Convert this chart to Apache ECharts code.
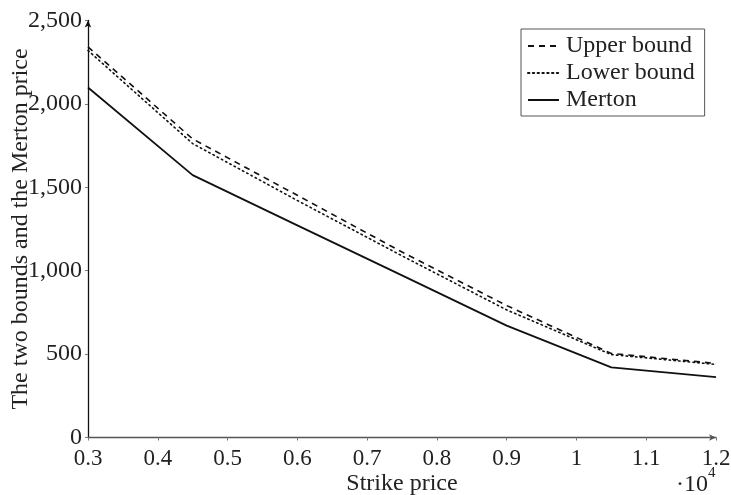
<!DOCTYPE html>
<html>
<head>
<meta charset="utf-8">
<script src="https://cdn.jsdelivr.net/npm/echarts@6/dist/echarts.min.js"></script>
<style>
html,body{margin:0;padding:0;background:#fff;}
#c{width:731px;height:495px;}
</style>
</head>
<body>
<div id="c"></div>
<script>
// Data
const strikes = [3000, 4500, 6000, 7500, 9000, 10500, 12000];
const upperBound = [2342, 1790, 1452, 1112, 791, 504, 444];
const lowerBound = [2320, 1762, 1421, 1089, 765, 497, 438];
const merton = [2098, 1573, 1272, 972, 671, 420, 362];
const seriesNames = ['Upper bound', 'Lower bound', 'Merton'];
const xTitle = 'Strike price';
const yTitle = 'The two bounds and the Merton price';
const xScaleBase = '·10';
const xScaleExp = '4';

const FONT = '"Liberation Serif", "DejaVu Serif", serif';
const pair = (xs, ys) => xs.map((x, i) => [x, ys[i]]);

const chart = echarts.init(document.getElementById('c'), null, {renderer: 'canvas'});
const baseLine = {color: '#111', width: 1.6};
chart.setOption({
  animation: false,
  backgroundColor: '#fff',
  textStyle: {fontFamily: FONT},
  grid: {left: 88, right: 15, top: 20.5, bottom: 57.5, containLabel: false, outerBoundsMode: 'none'},
  legend: {
    orient: 'vertical',
    left: 521, top: 29,
    padding: [5, 10, 4, 6],
    itemGap: 3,
    itemWidth: 31, itemHeight: 20,
    borderColor: '#555', borderWidth: 1,
    itemStyle: {opacity: 0},
    textStyle: {fontFamily: FONT, fontSize: 24, color: '#222', padding: [0, 0, 0, 2]},
    data: seriesNames
  },
  xAxis: {
    type: 'value', min: 3000, max: 12000, interval: 1000,
    name: xTitle, nameLocation: 'middle', nameGap: 34, nameMoveOverlap: false,
    nameTextStyle: {fontFamily: FONT, fontSize: 24, color: '#222'},
    axisLine: {show: true, onZero: false, lineStyle: {color: '#555', width: 1.3},
      symbol: ['none', 'arrow'], symbolSize: [5, 7], symbolOffset: [0, 0]},
    axisTick: {show: true, length: 3, lineStyle: {color: '#777'}},
    axisLabel: {fontFamily: FONT, fontSize: 23, color: '#222', margin: 10,
      formatter: v => String(+(v / 10000).toFixed(1))},
    splitLine: {show: false}
  },
  yAxis: {
    type: 'value', min: 0, max: 2500, interval: 500,
    name: yTitle, nameLocation: 'middle', nameGap: 55, nameRotate: 90, nameMoveOverlap: false,
    nameTextStyle: {fontFamily: FONT, fontSize: 24, color: '#222'},
    axisLine: {show: true, onZero: false, lineStyle: {color: '#111', width: 1.3},
      symbol: ['none', 'arrow'], symbolSize: [5, 7]},
    axisTick: {show: true, length: 3, lineStyle: {color: '#777'}},
    axisLabel: {fontFamily: FONT, fontSize: 24, color: '#222', margin: 6,
      formatter: v => v.toLocaleString('en-US')},
    splitLine: {show: false}
  },
  series: [
    {name: seriesNames[0], type: 'line', symbol: 'none', data: pair(strikes, upperBound),
      color: '#111', lineStyle: Object.assign({}, baseLine, {type: [6, 5]})},
    {name: seriesNames[1], type: 'line', symbol: 'none', data: pair(strikes, lowerBound),
      color: '#111', lineStyle: Object.assign({}, baseLine, {type: [1.4, 3.4], cap: 'round'})},
    {name: seriesNames[2], type: 'line', symbol: 'none', data: pair(strikes, merton),
      color: '#111', lineStyle: Object.assign({}, baseLine, {width: 1.8})}
  ],
  graphic: [
    {type: 'text', left: 676, top: 473,
      style: {text: xScaleBase, fontFamily: FONT, fontSize: 24, fill: '#222'}},
    {type: 'text', left: 708, top: 466,
      style: {text: xScaleExp, fontFamily: FONT, fontSize: 15, fill: '#222'}}
  ]
});
</script>
</body>
</html>
